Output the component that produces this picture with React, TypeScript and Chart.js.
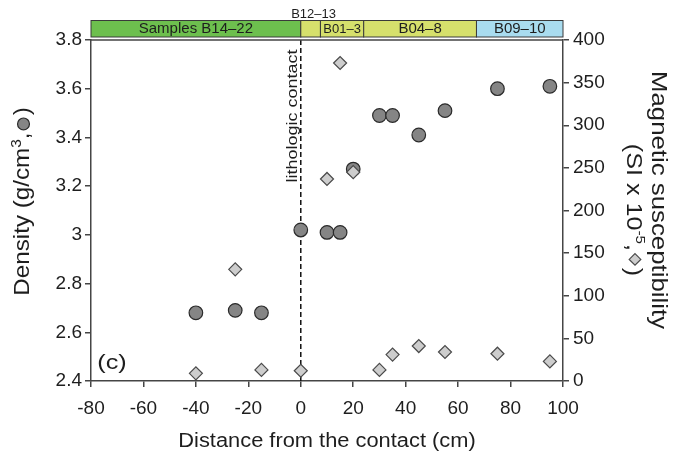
import React, { useEffect, useRef } from 'react';
import { Chart, registerables } from 'chart.js';

Chart.register(...registerables);

// Sample positions relative to the lithologic contact (cm)
const distance = [-40, -25, -15, 0, 10, 15, 20, 30, 35, 45, 55, 75, 95];
// Bulk density (g/cm3)
const density = [2.68, 2.69, 2.68, 3.02, 3.01, 3.01, 3.27, 3.49, 3.49, 3.41, 3.51, 3.6, 3.61];
// Magnetic susceptibility (SI x 10^-5)
const susceptibility = [9, 131, 13, 12, 237, 373, 245, 13, 31, 41, 34, 32, 23];

// Axis ranges and steps
const xRange = [-80, 100];
const xStep = 20;
const densityRange = [2.4, 3.8];
const densityStep = 0.2;
const suscRange = [0, 400];
const suscStep = 50;

// Sample-group strip above the plot
const zoneLabels = ['Samples B14–22', '', 'B01–3', 'B04–8', 'B09–10'];
const zoneStarts = [-80, 0, 7.5, 24, 67];
const zoneEnds = [0, 7.5, 24, 67, 100];
const zoneColors = ['#6dbf4e', '#d6e06c', '#d6e06c', '#d6e06c', '#a9dcef'];
const zoneFontSizes = [15, 13, 13, 15, 15];
const smallZoneLabel = 'B12–13';

const FONT = '"Liberation Sans", Arial, Helvetica, sans-serif';
const INK = '#1e1e1e';
const AXIS = '#454545';

type Part = { t?: string; size?: number; rise?: number; mark?: 'circle' | 'diamond' };

function drawMarker(ctx: CanvasRenderingContext2D, kind: 'circle' | 'diamond', x: number, y: number, r: number) {
  ctx.save();
  ctx.beginPath();
  if (kind === 'circle') {
    ctx.arc(x, y, r, 0, Math.PI * 2);
    ctx.fillStyle = '#858585';
    ctx.strokeStyle = '#2a2a2a';
  } else {
    ctx.moveTo(x - r, y);
    ctx.lineTo(x, y - r);
    ctx.lineTo(x + r, y);
    ctx.lineTo(x, y + r);
    ctx.closePath();
    ctx.fillStyle = '#cdcdcd';
    ctx.strokeStyle = '#4a4a4a';
  }
  ctx.lineWidth = 1.2;
  ctx.fill();
  ctx.stroke();
  ctx.restore();
}

// Draws a line of text (with optional superscripts and marker glyphs) centred on (cx, baseline cy)
function drawRich(
  ctx: CanvasRenderingContext2D,
  parts: Part[],
  cx: number,
  cy: number,
  size: number,
  stretch: number,
  angle: number,
) {
  ctx.save();
  ctx.translate(cx, cy);
  ctx.rotate(angle);
  ctx.fillStyle = INK;
  ctx.textAlign = 'left';
  ctx.textBaseline = 'alphabetic';
  const widths = parts.map((p) => {
    if (p.mark) return size * 0.78;
    ctx.font = `${p.size ?? size}px ${FONT}`;
    return ctx.measureText(p.t || '').width * stretch;
  });
  const total = widths.reduce((a, b) => a + b, 0);
  let x = -total / 2;
  parts.forEach((p, i) => {
    if (p.mark) {
      drawMarker(ctx, p.mark, x + widths[i] / 2, -(p.rise ?? size * 0.3), size * 0.27);
    } else {
      ctx.save();
      ctx.translate(x, -(p.rise ?? 0));
      ctx.scale(stretch, 1);
      ctx.font = `${p.size ?? size}px ${FONT}`;
      ctx.fillText(p.t || '', 0, 0);
      ctx.restore();
    }
    x += widths[i];
  });
  ctx.restore();
}

const decorPlugin = {
  id: 'decor',
  beforeDatasetsDraw(chart: any) {
    const { ctx, chartArea, scales } = chart;
    const x0 = scales.x.getPixelForValue(0);
    ctx.save();
    ctx.strokeStyle = '#111';
    ctx.lineWidth = 1.5;
    ctx.setLineDash([5, 3]);
    ctx.beginPath();
    ctx.moveTo(x0, chartArea.top);
    ctx.lineTo(x0, chartArea.bottom);
    ctx.stroke();
    ctx.restore();
  },
  afterDraw(chart: any) {
    const { ctx, chartArea, scales } = chart;
    const xs = scales.x;
    ctx.save();

    // top frame line
    ctx.strokeStyle = AXIS;
    ctx.lineWidth = 1.5;
    ctx.beginPath();
    ctx.moveTo(chartArea.left, chartArea.top);
    ctx.lineTo(chartArea.right, chartArea.top);
    ctx.stroke();

    // sample-group strip
    const bandTop = chartArea.top - 19.5;
    const bandH = 16.5;
    zoneStarts.forEach((s, i) => {
      const a = xs.getPixelForValue(s);
      const b = xs.getPixelForValue(zoneEnds[i]);
      ctx.fillStyle = zoneColors[i];
      ctx.fillRect(a, bandTop, b - a, bandH);
      ctx.strokeStyle = '#3a3a3a';
      ctx.lineWidth = 1;
      ctx.strokeRect(a, bandTop, b - a, bandH);
      if (zoneLabels[i]) {
        ctx.fillStyle = INK;
        ctx.font = `${zoneFontSizes[i]}px ${FONT}`;
        ctx.textAlign = 'center';
        ctx.textBaseline = 'middle';
        ctx.fillText(zoneLabels[i], (a + b) / 2, bandTop + bandH / 2 + 0.5);
      }
    });
    {
      const a = xs.getPixelForValue(zoneStarts[1]);
      const b = xs.getPixelForValue(zoneEnds[1]);
      ctx.fillStyle = INK;
      ctx.font = `13px ${FONT}`;
      ctx.textAlign = 'center';
      ctx.textBaseline = 'middle';
      ctx.fillText(smallZoneLabel, (a + b) / 2 + 3, bandTop - 6);
    }
    ctx.restore();

    // axis titles
    drawRich(ctx, [{ t: 'Distance from the contact (cm)' }], (chartArea.left + chartArea.right) / 2, 447, 19.5, 1.12, 0);
    drawRich(
      ctx,
      [{ t: 'Density (g/cm' }, { t: '3', size: 14, rise: 8 }, { t: ',' }, { mark: 'circle', rise: 5 }, { t: ')' }],
      28.5,
      (chartArea.top + chartArea.bottom) / 2 - 9,
      22,
      1.1,
      -Math.PI / 2,
    );
    drawRich(ctx, [{ t: 'Magnetic susceptibility' }], 652, 200, 21.5, 1.2, Math.PI / 2);
    drawRich(
      ctx,
      [{ t: '(SI x 10' }, { t: '-5', size: 13, rise: 9 }, { t: ',' }, { mark: 'diamond', rise: 8 }, { t: ')' }],
      627,
      210,
      21.5,
      1.17,
      Math.PI / 2,
    );

    // panel letter and contact annotation
    drawRich(ctx, [{ t: '(c)' }], chartArea.left + 21, 369, 21, 1.2, 0);
    drawRich(ctx, [{ t: 'lithologic contact' }], xs.getPixelForValue(0) - 4, 116, 15, 1.2, -Math.PI / 2);
  },
};

export default function App() {
  const canvasRef = useRef<HTMLCanvasElement | null>(null);

  useEffect(() => {
    document.body.style.margin = '0';
    const canvas = canvasRef.current;
    if (!canvas) return;

    const axisGrid = {
      display: true,
      drawOnChartArea: false,
      drawTicks: true,
      tickLength: 6,
      color: AXIS,
      lineWidth: 1.5,
    };
    const axisBorder = { display: true, color: AXIS, width: 1.5 };
    const tickFont = { family: FONT, size: 19 };

    const chart = new Chart(canvas, {
      type: 'scatter',
      data: {
        datasets: [
          {
            label: 'Magnetic susceptibility',
            data: distance.map((x, i) => ({ x, y: susceptibility[i] })),
            yAxisID: 'y2',
            pointStyle: 'rectRot',
            pointRadius: 6.5,
            backgroundColor: '#cdcdcd',
            borderColor: '#4a4a4a',
            borderWidth: 1.2,
            order: 1,
          },
          {
            label: 'Density',
            data: distance.map((x, i) => ({ x, y: density[i] })),
            yAxisID: 'y',
            pointStyle: 'circle',
            pointRadius: 6.8,
            backgroundColor: '#858585',
            borderColor: '#2a2a2a',
            borderWidth: 1.2,
            order: 2,
          },
        ],
      },
      options: {
        animation: false,
        responsive: false,
        maintainAspectRatio: false,
        devicePixelRatio: 1,
        layout: { padding: { top: 40, left: 0, right: 0, bottom: 0 } },
        plugins: { legend: { display: false }, tooltip: { enabled: false } },
        scales: {
          x: {
            type: 'linear',
            position: 'bottom',
            min: xRange[0],
            max: xRange[1],
            grid: axisGrid,
            border: axisBorder,
            ticks: { stepSize: xStep, color: INK, font: tickFont, padding: 10, maxRotation: 0 },
            afterFit: (s: any) => {
              s.height = 78;
            },
          },
          y: {
            type: 'linear',
            position: 'left',
            min: densityRange[0],
            max: densityRange[1],
            grid: axisGrid,
            border: axisBorder,
            ticks: {
              stepSize: densityStep,
              color: INK,
              font: tickFont,
              padding: 3,
              callback: (v: any) => String(Number(Number(v).toFixed(1))),
            },
            afterFit: (s: any) => {
              s.width = 91;
            },
          },
          y2: {
            type: 'linear',
            position: 'right',
            min: suscRange[0],
            max: suscRange[1],
            grid: axisGrid,
            border: axisBorder,
            ticks: { stepSize: suscStep, color: INK, font: tickFont, padding: 4 },
            afterFit: (s: any) => {
              s.width = 122;
            },
          },
        },
      },
      plugins: [decorPlugin],
    });

    return () => chart.destroy();
  }, []);

  return (
    <div style={{ width: 685, height: 459, background: '#fff' }}>
      <canvas ref={canvasRef} width={685} height={459} style={{ display: 'block' }} />
    </div>
  );
}
